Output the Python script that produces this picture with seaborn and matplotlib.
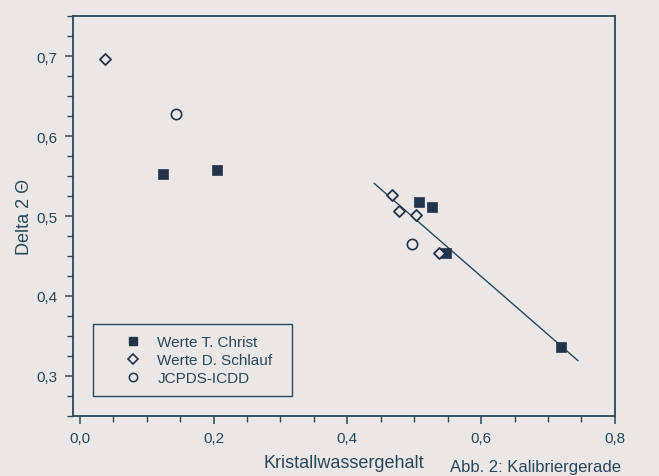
import matplotlib
matplotlib.use("Agg")
import matplotlib.pyplot as plt
import seaborn as sns
import pandas as pd
from matplotlib.ticker import MultipleLocator, FuncFormatter
from matplotlib.lines import Line2D

# data
christ_x = [0.125, 0.205, 0.507, 0.526, 0.547, 0.720]
christ_y = [0.552, 0.557, 0.517, 0.511, 0.454, 0.336]
schlauf_x = [0.037, 0.467, 0.477, 0.503, 0.537]
schlauf_y = [0.697, 0.526, 0.506, 0.501, 0.454]
icdd_x = [0.144, 0.497]
icdd_y = [0.628, 0.465]
line_x = [0.44, 0.745]
line_y = [0.541, 0.319]
series_names = ["Werte T. Christ", "Werte D. Schlauf", "JCPDS-ICDD"]

bg = "#ebe7e7"
ink = "#28485a"
mk = "#22344c"

sns.set_theme(style="ticks")
plt.rcParams['font.family'] = ['Liberation Sans', 'DejaVu Sans']

fig = plt.figure(figsize=(6.59, 4.77), dpi=100, facecolor=bg)
ax = fig.add_axes([0.111, 0.126, 0.822, 0.838])
ax.set_facecolor(bg)

df_c = pd.DataFrame({"x": christ_x, "y": christ_y})
df_s = pd.DataFrame({"x": schlauf_x, "y": schlauf_y})
df_i = pd.DataFrame({"x": icdd_x, "y": icdd_y})
df_l = pd.DataFrame({"x": line_x, "y": line_y})

sns.lineplot(data=df_l, x="x", y="y", ax=ax, color=ink, lw=1.0)
sns.scatterplot(data=df_c, x="x", y="y", ax=ax, marker="s", s=55,
                color=mk, edgecolor=mk, linewidth=0.5, zorder=3)
sns.scatterplot(data=df_s, x="x", y="y", ax=ax, marker="D", s=32,
                facecolor=bg, edgecolor=mk, linewidth=1.3, zorder=3)
sns.scatterplot(data=df_i, x="x", y="y", ax=ax, marker="o", s=55,
                facecolor=bg, edgecolor=mk, linewidth=1.2, zorder=3)

ax.set_xlim(-0.01, 0.8)
ax.set_ylim(0.25, 0.75)
ax.xaxis.set_major_locator(MultipleLocator(0.2))
ax.xaxis.set_minor_locator(MultipleLocator(0.05))
ax.yaxis.set_major_locator(MultipleLocator(0.1))
ax.yaxis.set_minor_locator(MultipleLocator(0.025))
fmt = FuncFormatter(lambda v, p: f"{v:.1f}".replace(".", ","))
ax.xaxis.set_major_formatter(fmt)
ax.yaxis.set_major_formatter(fmt)
ax.set_yticks([0.3, 0.4, 0.5, 0.6, 0.7])

for s in ax.spines.values():
    s.set_color(ink)
    s.set_linewidth(1.3)
ax.tick_params(which="major", direction="out", length=6, width=1.1, color=ink,
               labelcolor=ink, labelsize=11, pad=5)
ax.tick_params(which="minor", direction="out", length=4, width=1.0, color=ink)

ax.set_xlabel("Kristallwassergehalt", color=ink, fontsize=13, labelpad=6)
ax.set_ylabel("Delta 2 Θ", color=ink, fontsize=13, labelpad=3)

handles = [
    Line2D([], [], ls="none", marker="s", ms=6, color=mk, mec=mk),
    Line2D([], [], ls="none", marker="D", ms=5, mfc=bg, mec=mk, mew=1.2),
    Line2D([], [], ls="none", marker="o", ms=6, mfc=bg, mec=mk, mew=1.1),
]
leg = ax.legend(handles, series_names, loc="lower left",
                bbox_to_anchor=(0.037, 0.05, 0.367, 0.185), mode="expand",
                borderaxespad=0, fancybox=False, frameon=True, fontsize=11,
                handletextpad=-0.3, borderpad=0.7, labelspacing=0.27,
                handlelength=3.8, labelcolor=ink)
leg.get_frame().set_edgecolor(ink)
leg.get_frame().set_linewidth(1.0)
leg.get_frame().set_facecolor(bg)
leg.get_frame().set_alpha(1)

fig.text(450 / 659, 1 - 472 / 477, "Abb. 2: Kalibriergerade", color=ink,
         fontsize=12, ha="left", va="baseline")

fig.savefig("out.png", dpi=100, facecolor=bg)
